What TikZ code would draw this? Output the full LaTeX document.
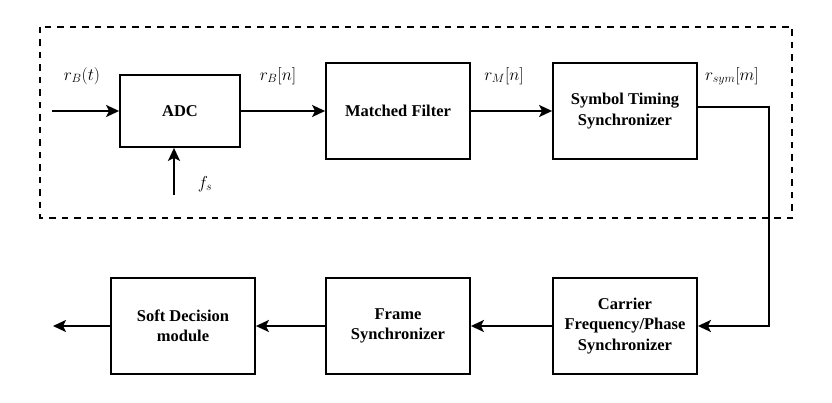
\documentclass[tikz,border=0pt]{standalone}
\usepackage[no-math]{fontspec}
\setmainfont{Liberation Serif}
\usepackage{amsmath}
\usetikzlibrary{arrows.meta}
\tikzset{
  block/.style={draw, line width=1.8pt, align=center, inner sep=0pt,
    font=\fontsize{16.5}{20.5}\selectfont\bfseries},
  sig/.style={line width=2pt, -{Stealth[length=13pt,width=12pt,inset=3pt]}},
  wire/.style={line width=2pt},
  lbl/.style={font=\fontsize{17}{20}\selectfont}
}

\begin{document}
\begin{tikzpicture}[x=1pt, y=-1pt]
      \useasboundingbox (0,0) rectangle (832,403);
      % Receiver front end
      \draw[line width=1.8pt, dash pattern=on 6.5pt off 6pt] (40,27) rectangle (792,218);
      % Blocks
      \node[block, minimum width=120pt, minimum height=72pt] (adc) at (180,111) {ADC};
      \node[block, minimum width=144pt, minimum height=96pt] (mf) at (398,111) {Matched Filter};
      \node[block, minimum width=144pt, minimum height=96pt] (sts) at (625,111) {Symbol Timing\\Synchronizer};
      \node[block, minimum width=144pt, minimum height=96pt] (cfp) at (625,326) {Carrier\\Frequency/Phase\\Synchronizer};
      \node[block, minimum width=144pt, minimum height=96pt] (fsync) at (398,326) {Frame\\Synchronizer};
      \node[block, minimum width=144pt, minimum height=96pt] (sdm) at (183,326) {Soft Decision\\module};
      % Free ends
      \coordinate (in) at (52,111);
      \coordinate (clk) at (174,195);
      \coordinate (turn) at (769,107);
      \coordinate (out) at (53,326);
      % Signals
      \draw[sig] (in) -- (adc);
      \draw[sig] (clk) -- (clk |- adc.south);
      \draw[sig] (adc) -- (mf);
      \draw[sig] (mf) -- (sts);
      \draw[sig] (sts.east |- turn) -- (turn) |- (cfp.east);
      \draw[sig] (cfp) -- (fsync);
      \draw[sig] (fsync) -- (sdm);
      \draw[sig] (sdm) -- (out);
      % Labels
      \node[lbl] (lin) at (82,76) {$r_B(t)$};
      \node[lbl] (lclk) at (205,184) {$f_s$};
      \node[lbl] (ladc) at (278,76) {$r_B[n]$};
      \node[lbl] (lmf) at (504,76) {$r_M[n]$};
      \node[lbl] (lsts) at (732,76) {$r_{sym}[m]$};
\end{tikzpicture}
\end{document}
